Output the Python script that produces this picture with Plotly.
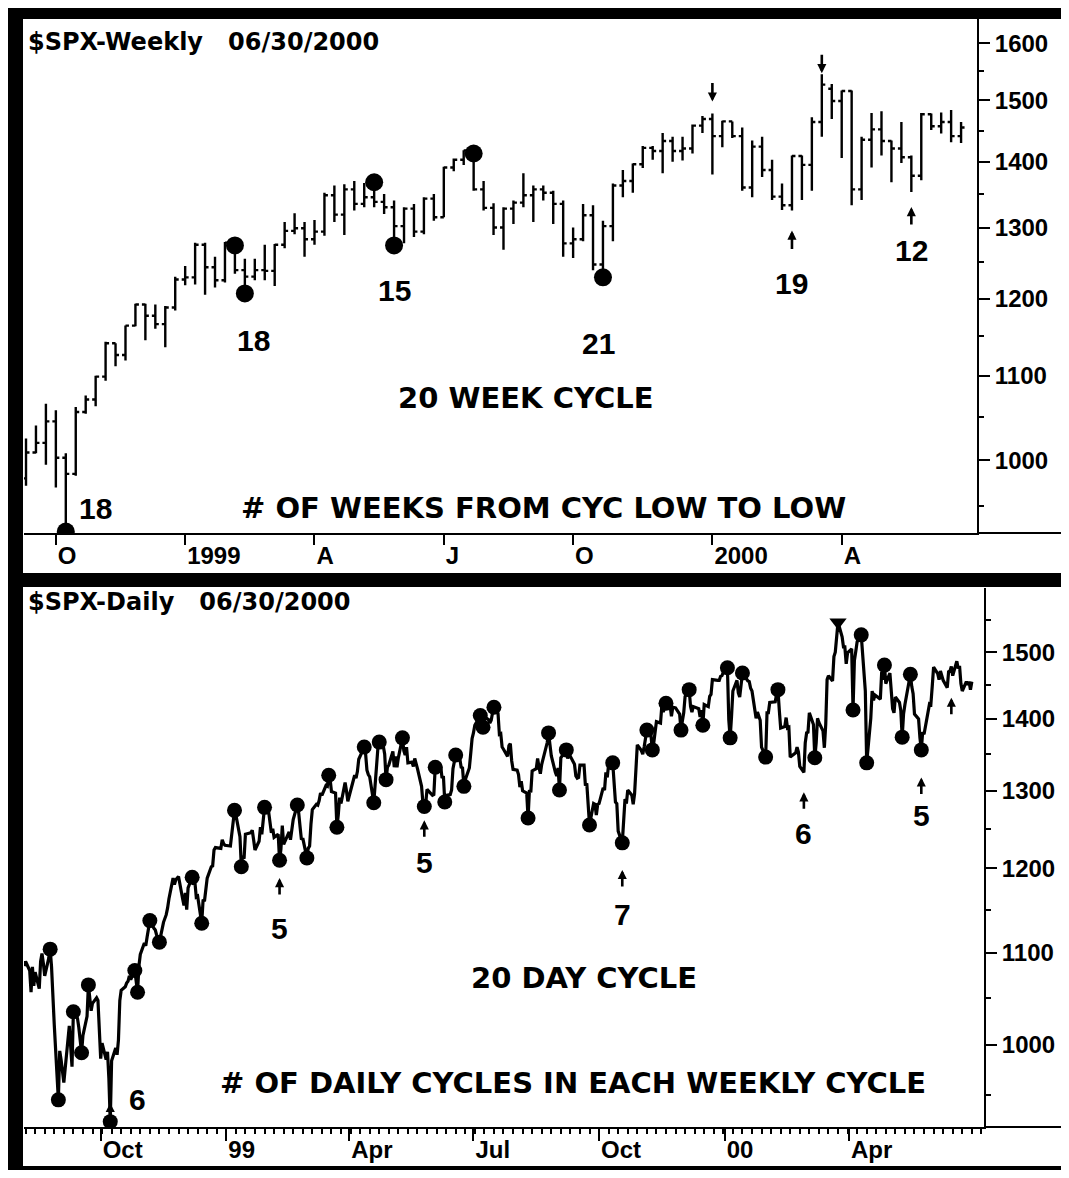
import numpy as np
import pandas as pd
import plotly.graph_objects as go

W, H = 1069, 1178          # reference picture size
OFF = 8                    # browser body margin
FW, FH = W - 2 * OFF, H - 2 * OFF

# ============================ WEEKLY PANEL DATA ============================
weekly_first_bar = "1998-09-11"
weekly_last_bar = "2000-06-30"

weekly_open = [
    980, 1009, 1020, 1045, 1003, 985, 1056, 1071, 1099, 1141,
    1126, 1164, 1192, 1177, 1166, 1188, 1226, 1229, 1275, 1243,
    1225, 1278, 1239, 1230, 1239, 1238, 1275, 1295, 1299, 1283,
    1294, 1348, 1319, 1357, 1335, 1345, 1338, 1330, 1302, 1328,
    1294, 1343, 1315, 1391, 1403, 1418, 1357, 1329, 1300, 1328,
    1337, 1348, 1357, 1352, 1335, 1277, 1283, 1318, 1247, 1302,
    1363, 1370, 1396, 1422, 1417, 1433, 1417, 1421, 1458, 1469,
    1441, 1465, 1441, 1360, 1424, 1387, 1346, 1333, 1409, 1395,
    1464, 1520, 1499, 1516, 1357, 1435, 1452, 1433, 1421, 1407,
    1378, 1477, 1457, 1464, 1441,
]
weekly_high = [
    1025, 1040, 1066, 1058, 1008, 1062, 1076, 1100, 1143, 1141,
    1164, 1193, 1193, 1192, 1190, 1230, 1245, 1278, 1278, 1258,
    1279, 1280, 1255, 1255, 1275, 1276, 1308, 1321, 1308, 1311,
    1352, 1363, 1365, 1370, 1367, 1376, 1350, 1340, 1330, 1335,
    1345, 1350, 1392, 1405, 1418, 1421, 1370, 1336, 1330, 1340,
    1382, 1363, 1363, 1355, 1340, 1300, 1335, 1333, 1310, 1366,
    1387, 1397, 1425, 1425, 1446, 1440, 1440, 1460, 1474, 1478,
    1466, 1465, 1455, 1434, 1440, 1403, 1366, 1410, 1410, 1472,
    1545, 1528, 1517, 1517, 1440, 1479, 1482, 1434, 1464, 1410,
    1479, 1478, 1480, 1484, 1464,
]
weekly_low = [
    972, 1008, 995, 970, 923, 983, 1054, 1063, 1094, 1112,
    1119, 1163, 1145, 1160, 1136, 1184, 1218, 1219, 1205, 1215,
    1222, 1234, 1216, 1225, 1225, 1217, 1270, 1290, 1258, 1275,
    1288, 1308, 1289, 1325, 1330, 1330, 1320, 1281, 1277, 1286,
    1290, 1310, 1315, 1385, 1395, 1355, 1325, 1289, 1268, 1305,
    1330, 1308, 1340, 1305, 1258, 1256, 1280, 1239, 1233, 1280,
    1345, 1352, 1390, 1403, 1382, 1400, 1402, 1413, 1446, 1380,
    1423, 1438, 1355, 1345, 1376, 1341, 1326, 1325, 1341, 1355,
    1440, 1469, 1406, 1333, 1341, 1391, 1410, 1368, 1398, 1353,
    1371, 1451, 1445, 1431, 1430,
]
weekly_close = [
    1009, 1020, 1045, 1003, 985, 1056, 1071, 1099, 1141, 1126,
    1164, 1192, 1177, 1166, 1188, 1226, 1229, 1275, 1243, 1225,
    1278, 1239, 1230, 1239, 1238, 1275, 1295, 1299, 1283, 1294,
    1348, 1319, 1357, 1335, 1345, 1338, 1330, 1302, 1328, 1294,
    1343, 1315, 1391, 1403, 1418, 1357, 1329, 1300, 1328, 1337,
    1348, 1357, 1352, 1335, 1277, 1283, 1318, 1247, 1302, 1363,
    1370, 1396, 1422, 1417, 1433, 1417, 1421, 1458, 1469, 1441,
    1465, 1441, 1360, 1424, 1387, 1346, 1333, 1409, 1395, 1464,
    1527, 1499, 1516, 1357, 1435, 1452, 1433, 1421, 1407, 1378,
    1477, 1457, 1464, 1441, 1455,
]

weekly_cycle_dates = ["1998-10-09", "1999-02-05", "1999-02-12", "1999-05-14",
                      "1999-05-28", "1999-07-23", "1999-10-22"]
weekly_cycle_values = [923, 1274, 1207, 1368, 1274, 1413, 1229]

weekly_tick_dates = ["1998-10-02", "1999-01-01", "1999-04-02", "1999-07-02",
                     "1999-10-01", "2000-01-07", "2000-04-07"]
weekly_tick_text = ["O", "1999", "A", "J", "O", "2000", "A"]

# ============================ DAILY PANEL DATA =============================
daily_first_day = "1998-08-06"
daily_last_day = "2000-06-30"
market_holidays = ["1998-09-07", "1998-11-26", "1998-12-25", "1999-01-01", "1999-01-18",
                   "1999-02-15", "1999-04-02", "1999-05-31", "1999-07-05", "1999-09-06",
                   "1999-11-25", "1999-12-24", "2000-01-17", "2000-02-21", "2000-04-21",
                   "2000-05-29"]

daily_values = [
    # 1998 Aug
    1085, 1090, 1080, 1056, 1084, 1063, 1078, 1060, 1090, 1099, 1088, 1074, 1094, 1104, 1084, 1040, 1021, 945,
    # Sep
    994, 985, 972, 962, 1020, 1000, 978, 1035, 1028, 1018, 1006, 992, 1010, 1030, 1064, 1050, 1036, 1044, 1050, 1047, 1016,
    # Oct
    986, 1002, 985, 993, 966, 924, 984, 997, 990, 1005, 1047, 1058, 1062, 1066, 1068, 1074, 1070, 1080, 1063, 1056, 1085, 1098,
    # Nov
    1111, 1108, 1118, 1130, 1137, 1128, 1126, 1120, 1116, 1112, 1135, 1139, 1144, 1152, 1163, 1188, 1180, 1186, 1190, 1163,
    # Dec
    1155, 1170, 1150, 1176, 1189, 1180, 1183, 1165, 1166, 1134, 1162, 1160, 1179, 1188, 1202, 1203, 1223, 1226, 1225, 1236, 1231, 1229,
    # 1999 Jan
    1228, 1244, 1265, 1274, 1268, 1240, 1202, 1215, 1212, 1243, 1245, 1248, 1236, 1223, 1234, 1252, 1243, 1265, 1278,
    # Feb
    1272, 1261, 1245, 1250, 1239, 1243, 1210, 1224, 1254, 1230, 1246, 1236, 1252, 1262, 1281, 1271, 1253, 1236, 1238,
    # Mar
    1213, 1225, 1228, 1256, 1275, 1282, 1281, 1287, 1297, 1294, 1307, 1306, 1321, 1316, 1299, 1297, 1252, 1268, 1291, 1283, 1311, 1300, 1286,
    # Apr
    1293, 1321, 1317, 1326, 1343, 1348, 1360, 1351, 1328, 1322, 1319, 1284, 1306, 1336, 1358, 1367, 1361, 1350, 1315, 1332, 1335,
    # May
    1354, 1332, 1347, 1332, 1345, 1373, 1355, 1349, 1360, 1338, 1339, 1333, 1344, 1338, 1330, 1306, 1284, 1279, 1282, 1302,
    # Jun
    1294, 1295, 1332, 1327, 1334, 1317, 1320, 1285, 1294, 1295, 1301, 1330, 1339, 1349, 1344, 1332, 1331, 1306, 1315, 1331, 1351, 1372,
    # Jul
    1380, 1391, 1405, 1395, 1388, 1403, 1399, 1394, 1398, 1409, 1417, 1408, 1378, 1379, 1360, 1357, 1347, 1362, 1365, 1341, 1329,
    # Aug
    1328, 1322, 1305, 1313, 1300, 1297, 1264, 1301, 1298, 1327, 1330, 1344, 1332, 1323, 1336, 1360, 1366, 1380, 1362, 1348, 1325, 1320,
    # Sep
    1331, 1301, 1345, 1356, 1344, 1351, 1347, 1336, 1320, 1317, 1318, 1335, 1335, 1307, 1310, 1280, 1255, 1283, 1282, 1268, 1282,
    # Oct
    1283, 1304, 1301, 1325, 1318, 1336, 1338, 1314, 1285, 1283, 1247, 1232, 1262, 1289, 1283, 1301, 1294, 1282, 1296, 1342, 1363,
    # Nov
    1355, 1350, 1360, 1370, 1384, 1377, 1356, 1365, 1381, 1396, 1394, 1420, 1410, 1418, 1423, 1420, 1404, 1417, 1416, 1407, 1384,
    # Dec
    1397, 1409, 1433, 1443, 1418, 1410, 1418, 1417, 1415, 1403, 1413, 1391, 1421, 1418, 1433, 1436, 1458, 1457, 1457, 1463, 1464, 1469,
    # 2000 Jan
    1476, 1399, 1373, 1403, 1441, 1457, 1438, 1432, 1449, 1468, 1456, 1455, 1445, 1441, 1401, 1410, 1404, 1398, 1360, 1346,
    # Feb
    1409, 1409, 1424, 1424, 1425, 1436, 1443, 1413, 1387, 1389, 1402, 1387, 1388, 1346, 1352, 1360, 1353, 1333, 1325, 1366,
    # Mar
    1380, 1381, 1409, 1392, 1345, 1366, 1401, 1395, 1383, 1359, 1392, 1458, 1464, 1456, 1493, 1500, 1527, 1547, 1524, 1508, 1508, 1482, 1499,
    # Apr
    1505, 1413, 1487, 1501, 1516, 1527, 1498, 1467, 1441, 1338, 1401, 1441, 1427, 1435, 1429, 1470, 1458, 1480, 1452,
    # May
    1468, 1446, 1415, 1409, 1432, 1424, 1412, 1374, 1407, 1421, 1452, 1466, 1448, 1437, 1407, 1400, 1373, 1356, 1381, 1378, 1422, 1421,
    # Jun
    1448, 1477, 1467, 1458, 1471, 1462, 1457, 1446, 1470, 1471, 1478, 1464, 1486, 1475, 1479, 1452, 1441, 1455, 1450, 1455, 1443, 1455,
]

daily_cycle_dates = [
    "1998-08-25", "1998-08-31", "1998-09-11", "1998-09-17", "1998-09-22", "1998-10-08", "1998-10-26", "1998-10-28",
    "1998-11-06", "1998-11-13", "1998-12-07", "1998-12-14",
    "1999-01-07", "1999-01-12", "1999-01-29", "1999-02-09", "1999-02-22", "1999-03-01", "1999-03-17", "1999-03-23",
    "1999-04-12", "1999-04-19", "1999-04-23", "1999-04-28", "1999-05-10", "1999-05-26", "1999-06-03", "1999-06-10",
    "1999-06-18", "1999-06-24", "1999-07-06", "1999-07-08", "1999-07-16", "1999-08-10", "1999-08-25", "1999-09-02",
    "1999-09-07", "1999-09-24", "1999-10-11", "1999-10-18", "1999-11-05", "1999-11-09", "1999-11-19", "1999-11-30",
    "1999-12-06", "1999-12-16",
    "2000-01-03", "2000-01-05", "2000-01-14", "2000-01-31", "2000-02-09", "2000-03-07", "2000-04-04", "2000-04-10",
    "2000-04-14", "2000-04-27", "2000-05-10", "2000-05-16", "2000-05-24",
]
daily_cycle_values = [
    1104, 945, 1035, 992, 1064, 924, 1080, 1056,
    1137, 1112, 1189, 1134,
    1274, 1202, 1278, 1210, 1281, 1213, 1321, 1252,
    1360, 1284, 1367, 1315, 1373, 1279, 1332, 1285,
    1349, 1306, 1405, 1388, 1417, 1264, 1380, 1301,
    1356, 1255, 1338, 1232, 1384, 1356, 1423, 1384,
    1443, 1391,
    1476, 1373, 1468, 1346, 1443, 1345, 1413, 1527,
    1338, 1480, 1374, 1466, 1356,
]
daily_top_dates = ["2000-03-24"]
daily_top_values = [1547]

daily_arrow_dates = ["1998-10-08", "1999-02-09", "1999-05-26", "1999-10-18",
                     "2000-02-28", "2000-05-24", "2000-06-15"]
daily_arrow_values = [942, 1188, 1261, 1198, 1298, 1318, 1431]
daily_arrow_labels = ["6", "5", "5", "7", "6", "5", ""]

daily_tick_dates = ["1998-10-01", "1999-01-01", "1999-04-01", "1999-07-01",
                    "1999-10-01", "2000-01-01", "2000-04-01"]
daily_tick_text = ["Oct", "99", "Apr", "Jul", "Oct", "00", "Apr"]

top_price_ticks = [1000, 1100, 1200, 1300, 1400, 1500, 1600]
top_price_minor = [950, 1050, 1150, 1250, 1350, 1450, 1550]
bottom_price_ticks = [1000, 1100, 1200, 1300, 1400, 1500]
bottom_price_minor = [950, 1050, 1150, 1250, 1350, 1450, 1550]

# ============================ BUILD ============================
weekly_dates = pd.date_range(weekly_first_bar, weekly_last_bar, freq="W-FRI")
daily_dates = pd.bdate_range(daily_first_day, daily_last_day, freq="C", holidays=market_holidays)
n_daily = min(len(daily_dates), len(daily_values))
n_week = min(len(weekly_dates), len(weekly_open))
wd = [d.strftime("%Y-%m-%d") for d in weekly_dates]


def px_x(p):
    """reference-picture x pixel -> paper fraction"""
    return (p - OFF) / FW


def px_y(p):
    """reference-picture y pixel -> paper fraction"""
    return 1 - (p - OFF) / FH


BLACK = "#000000"
WORD_FONT = dict(family="DejaVu Sans", size=29, color=BLACK, weight="bold")
NUM_FONT = dict(family="Liberation Sans", size=30, color=BLACK, weight="bold")
TICK_FONT = dict(family="Liberation Sans", size=24, color=BLACK, weight="bold")
TITLE_FONT = dict(family="DejaVu Sans", size=24, color=BLACK, weight="bold")

fig = go.Figure()

fig.add_trace(go.Ohlc(
    x=weekly_dates[:n_week], open=weekly_open[:n_week], high=weekly_high[:n_week],
    low=weekly_low[:n_week], close=weekly_close[:n_week],
    increasing=dict(line=dict(color=BLACK, width=2.4)),
    decreasing=dict(line=dict(color=BLACK, width=2.4)),
    tickwidth=0.35, xaxis="x", yaxis="y", showlegend=False,
))
fig.add_trace(go.Scatter(
    x=weekly_cycle_dates, y=weekly_cycle_values, mode="markers",
    marker=dict(size=18, color=BLACK), xaxis="x", yaxis="y", showlegend=False,
))

fig.add_trace(go.Scatter(
    x=daily_dates[:n_daily], y=daily_values[:n_daily], mode="lines",
    line=dict(color=BLACK, width=3.2), xaxis="x2", yaxis="y2", showlegend=False,
))
fig.add_trace(go.Scatter(
    x=daily_cycle_dates, y=daily_cycle_values, mode="markers",
    marker=dict(size=15, color=BLACK), xaxis="x2", yaxis="y2", showlegend=False,
))
fig.add_trace(go.Scatter(
    x=daily_top_dates, y=daily_top_values, mode="markers",
    marker=dict(size=15, color=BLACK, symbol="triangle-down"),
    xaxis="x2", yaxis="y2", showlegend=False,
))

axis_common = dict(showgrid=False, zeroline=False, showline=True, linecolor=BLACK,
                   linewidth=2, ticks="outside", tickcolor=BLACK, tickwidth=2)

fig.update_layout(
    width=FW, height=FH, margin=dict(l=0, r=0, t=0, b=0),
    paper_bgcolor="white", plot_bgcolor="white", showlegend=False,
    xaxis=dict(domain=[px_x(24), px_x(977)], anchor="y", type="date",
               range=["1998-09-09 14:00", "2000-07-11 05:00"],
               tickmode="array", tickvals=weekly_tick_dates, ticktext=weekly_tick_text,
               ticklen=10, tickfont=TICK_FONT, ticklabelposition="outside right",
               rangeslider=dict(visible=False), **axis_common),
    yaxis=dict(domain=[px_y(533), px_y(18)], anchor="x", type="log", side="right",
               range=[np.log10(921.5), np.log10(1646)],
               tickmode="array", tickvals=top_price_ticks,
               ticktext=[str(v) for v in top_price_ticks],
               ticklen=11, tickfont=TICK_FONT,
               minor=dict(tickmode="array", tickvals=top_price_minor, ticks="outside",
                          ticklen=5, tickwidth=1.5, tickcolor=BLACK),
               **axis_common),
    xaxis2=dict(domain=[px_x(24), px_x(984)], anchor="y2", type="date",
                range=["1998-08-05 20:00", "2000-07-08 22:00"],
                tickmode="array", tickvals=daily_tick_dates, ticktext=daily_tick_text,
                ticklen=12, tickfont=TICK_FONT, ticklabelposition="outside right",
                minor=dict(dtick=7 * 86400000, tick0="1998-08-07", ticks="outside",
                           ticklen=5, tickwidth=1.5, tickcolor=BLACK),
                **axis_common),
    yaxis2=dict(domain=[px_y(1127), px_y(588)], anchor="x2", type="log", side="right",
                range=[np.log10(918.9), np.log10(1602.6)],
                tickmode="array", tickvals=bottom_price_ticks,
                ticktext=[str(v) for v in bottom_price_ticks],
                ticklen=11, tickfont=TICK_FONT,
                minor=dict(tickmode="array", tickvals=bottom_price_minor, ticks="outside",
                           ticklen=5, tickwidth=1.5, tickcolor=BLACK),
                **axis_common),
)

# ---- frame (thick black borders) and axis-line extensions
shapes = []
for (x0, y0, x1, y1) in [(8, 8, 23, H), (8, 8, W, 19), (8, 573, W, 587), (8, 1166, W, H)]:
    shapes.append(dict(type="rect", xref="paper", yref="paper",
                       x0=px_x(x0), x1=px_x(x1), y0=px_y(y1), y1=px_y(y0),
                       fillcolor=BLACK, line=dict(width=0)))
shapes.append(dict(type="line", xref="paper", yref="paper", x0=px_x(977), x1=1,
                   y0=px_y(533), y1=px_y(533), line=dict(color=BLACK, width=2)))
shapes.append(dict(type="line", xref="paper", yref="paper", x0=px_x(984), x1=1,
                   y0=px_y(1127), y1=px_y(1127), line=dict(color=BLACK, width=2)))
fig.update_layout(shapes=shapes)


def text_ann(x, y, text, font, xref="paper", yref="paper", xshift=0, yshift=0,
             xanchor="center"):
    return dict(x=x, y=y, xref=xref, yref=yref, text=text, showarrow=False, font=font,
                xshift=xshift, yshift=yshift, xanchor=xanchor, yanchor="middle")


def arrow_ann(x, y, xref, yref, ay, standoff):
    return dict(x=x, y=y, xref=xref, yref=yref, text="", showarrow=True, ax=0, ay=ay,
                arrowhead=2, arrowsize=0.7, arrowwidth=2.6, arrowcolor=BLACK,
                standoff=standoff)


NB = "\u00a0"
ann = [
    text_ann(px_x(26), px_y(42), "$SPX-Weekly" + NB * 3 + "06/30/2000", TITLE_FONT, xanchor="left"),
    text_ann(px_x(26), px_y(602), "$SPX-Daily" + NB * 3 + "06/30/2000", TITLE_FONT, xanchor="left"),
    text_ann(px_x(525), px_y(398), "20 WEEK CYCLE", WORD_FONT),
    text_ann(px_x(543), px_y(508), "# OF WEEKS FROM CYC LOW TO LOW", WORD_FONT),
    text_ann(px_x(584), px_y(978), "20 DAY CYCLE", WORD_FONT),
    text_ann(px_x(573), px_y(1083), "# OF DAILY CYCLES IN EACH WEEKLY CYCLE", WORD_FONT),
]

# weekly cycle counts next to the circled lows
for idx, lab, dx, dy in [(0, "18", 30, 23), (2, "18", 9, -47), (4, "15", 0, -45), (6, "21", -4, -66)]:
    ann.append(text_ann(weekly_cycle_dates[idx], np.log10(weekly_cycle_values[idx]), lab,
                        NUM_FONT, xref="x", yref="y", xshift=dx, yshift=dy))

# weekly arrows at later lows / highs
for idx, lab, ay, so, dy in [(77, "19", 40, 20, -73), (89, "12", 34, 15, -58)]:
    ann.append(arrow_ann(wd[idx], np.log10(weekly_low[idx]), "x", "y", ay, so))
    ann.append(text_ann(wd[idx], np.log10(weekly_low[idx]), lab, NUM_FONT,
                        xref="x", yref="y", yshift=dy))
for idx, ay, so in [(69, -32, 12), (80, -21, 1)]:
    ann.append(arrow_ann(wd[idx], np.log10(weekly_high[idx]), "x", "y", ay, so))

# daily arrows and counts
label_offsets = [(27, 3), (0, -50), (0, -42), (0, -45), (0, -41), (0, -38), (0, 0)]
for d, v, lab, (dx, dy) in zip(daily_arrow_dates, daily_arrow_values, daily_arrow_labels, label_offsets):
    ann.append(arrow_ann(d, np.log10(v), "x2", "y2", 18, 0))
    if lab:
        ann.append(text_ann(d, np.log10(v), lab, NUM_FONT, xref="x2", yref="y2",
                            xshift=dx, yshift=dy))

fig.update_layout(annotations=ann)

fig.write_html("out.html")
